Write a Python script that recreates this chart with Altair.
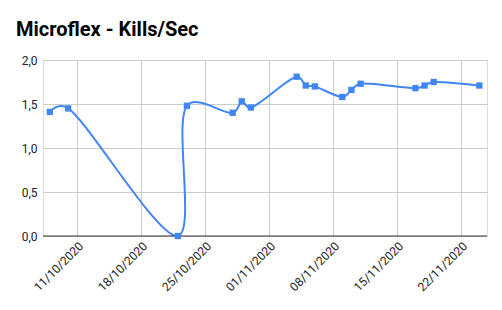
import altair as alt
import pandas as pd

dates = ["2020-10-08", "2020-10-10", "2020-10-22", "2020-10-23", "2020-10-28",
         "2020-10-29", "2020-10-30", "2020-11-04", "2020-11-05", "2020-11-06",
         "2020-11-09", "2020-11-10", "2020-11-11", "2020-11-17", "2020-11-18",
         "2020-11-19", "2020-11-24"]
values = [1.41, 1.45, 0.0, 1.48, 1.40, 1.53, 1.46, 1.81, 1.71, 1.70,
          1.58, 1.66, 1.73, 1.68, 1.71, 1.75, 1.71]
tick_dates = [(2020, 10, 11), (2020, 10, 18), (2020, 10, 25), (2020, 11, 1),
              (2020, 11, 8), (2020, 11, 15), (2020, 11, 22)]

df = pd.DataFrame({"date": [d + "T00:00:00Z" for d in dates], "value": values})

FONT = "Roboto"
BLUE = "#4285F4"

x_enc = alt.X(
    "date:T",
    scale=alt.Scale(type="utc", domain=[alt.DateTime(year=2020, month=10, date=7, hours=6, utc=True),
                                        alt.DateTime(year=2020, month=11, date=24, hours=20, utc=True)]),
    axis=alt.Axis(
        title=None,
        values=[alt.DateTime(year=y, month=m, date=d, utc=True) for (y, m, d) in tick_dates],
        labelExpr="utcFormat(datum.value, '%d/%m/%Y')",
        labelAngle=-45, labelAlign="right", labelBaseline="top",
        labelFont=FONT, labelFontSize=12, labelColor="#222222", labelPadding=4,
        grid=True, gridColor="#cccccc", ticks=False, domain=False,
    ),
)
y_enc = alt.Y(
    "value:Q",
    scale=alt.Scale(domain=[0, 2], nice=False),
    axis=alt.Axis(
        title=None, values=[0, 0.5, 1, 1.5, 2],
        labelExpr="replace(format(datum.value, '.1f'), '.', ',')",
        labelFont=FONT, labelFontSize=12, labelColor="#222222", labelPadding=6,
        grid=True, gridColor="#cccccc", ticks=False, domain=False,
    ),
)

base = alt.Chart(df)
line = base.mark_line(color=BLUE, strokeWidth=2, interpolate="catmull-rom", tension=0.3,
                      clip=True).encode(x=x_enc, y=y_enc)
pts = base.mark_point(shape="square", filled=True, color=BLUE, size=40, opacity=1).encode(x="date:T", y="value:Q")
zero = alt.Chart(pd.DataFrame({"z": [0]})).mark_rule(color="#333333", strokeWidth=1).encode(y="z:Q")

chart = alt.layer(line, zero, pts).properties(
    width=444, height=176,
    title=alt.TitleParams("Microflex - Kills/Sec", anchor="start", frame="group", font=FONT, fontSize=20,
                          fontWeight="bold", color="#000000", dx=-27, dy=27, offset=25, baseline="alphabetic"),
    autosize=alt.AutoSizeParams(type="none"),
    padding={"left": 43, "top": 60, "right": 15, "bottom": 74},
).configure_view(stroke=None).configure(background="white")

chart.save("out.html", embed_options={"renderer": "svg", "actions": False})
